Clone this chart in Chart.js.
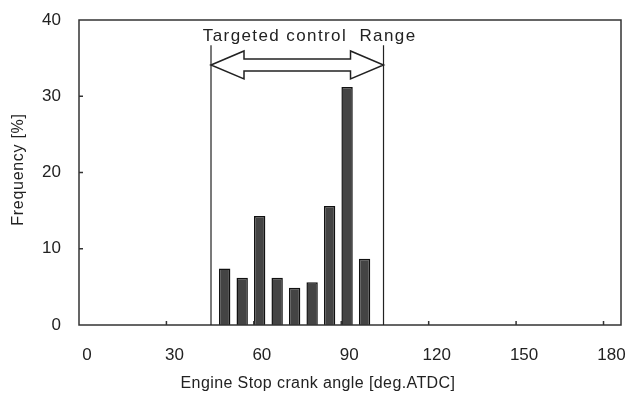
<!DOCTYPE html>
<html>
<head>
<meta charset="utf-8">
<script src="https://cdn.jsdelivr.net/npm/chart.js@4.4.0/dist/chart.umd.min.js"></script>
<style>
html, body { margin: 0; padding: 0; background: #fff; }
</style>
</head>
<body>
<canvas id="myChart" width="628" height="402"></canvas>
<script>
// stop angle bins (deg ATDC) and share of stops per bin (%)
const angles = [50, 56, 62, 68, 74, 80, 86, 92, 98];
const freq = [7.4, 6.2, 14.3, 6.2, 4.9, 5.6, 15.6, 31.2, 8.7];
const xTicks = [0, 30, 60, 90, 120, 150, 180];
const yTicks = [0, 10, 20, 30, 40];
const rangeBounds = [45.3, 104.5];
const rangeLabel = 'Targeted control  Range';
const xTitle = 'Engine Stop crank angle [deg.ATDC]';
const yTitle = 'Frequency [%]';

const FONT = '"Liberation Sans", Arial, sans-serif';
const INK = '#222';

// frame, inward tick marks, control range arrow and axis titles
const extras = {
  id: 'extras',
  afterDraw(chart) {
    const ctx = chart.ctx;
    const a = chart.chartArea;
    const xs = chart.scales.x, ys = chart.scales.y;
    ctx.save();
    ctx.strokeStyle = '#333';
    ctx.lineWidth = 1.5;
    ctx.strokeRect(a.left, a.top, a.right - a.left, a.bottom - a.top);

    ctx.beginPath();
    xTicks.slice(1).forEach(v => {
      const px = xs.getPixelForValue(v);
      ctx.moveTo(px, a.bottom);
      ctx.lineTo(px, a.bottom - 4);
    });
    yTicks.slice(1, -1).forEach(v => {
      const py = ys.getPixelForValue(v);
      ctx.moveTo(a.left, py);
      ctx.lineTo(a.left + 4, py);
    });
    ctx.stroke();

    // range limits
    const xl = xs.getPixelForValue(rangeBounds[0]);
    const xr = xs.getPixelForValue(rangeBounds[1]);
    const yTop = ys.getPixelForValue(36.7);
    ctx.strokeStyle = INK;
    ctx.lineWidth = 1.2;
    ctx.beginPath();
    ctx.moveTo(xl, yTop); ctx.lineTo(xl, ys.getPixelForValue(0));
    ctx.moveTo(xr, yTop); ctx.lineTo(xr, ys.getPixelForValue(0));
    ctx.stroke();

    // hollow double arrow
    const yc = ys.getPixelForValue(34.1);
    const hl = 33, hw = 14, sw = 6;
    ctx.beginPath();
    ctx.moveTo(xl, yc);
    ctx.lineTo(xl + hl, yc - hw);
    ctx.lineTo(xl + hl, yc - sw);
    ctx.lineTo(xr - hl, yc - sw);
    ctx.lineTo(xr - hl, yc - hw);
    ctx.lineTo(xr, yc);
    ctx.lineTo(xr - hl, yc + hw);
    ctx.lineTo(xr - hl, yc + sw);
    ctx.lineTo(xl + hl, yc + sw);
    ctx.lineTo(xl + hl, yc + hw);
    ctx.closePath();
    ctx.fillStyle = '#fff';
    ctx.fill();
    ctx.lineWidth = 1.5;
    ctx.stroke();

    ctx.fillStyle = INK;
    ctx.font = '17px ' + FONT;
    ctx.letterSpacing = '1.4px';
    ctx.textAlign = 'left';
    ctx.textBaseline = 'middle';
    ctx.fillText(rangeLabel, xs.getPixelForValue(42.5), ys.getPixelForValue(37.8));

    ctx.font = '16px ' + FONT;
    ctx.letterSpacing = '0.4px';
    ctx.textAlign = 'center';
    ctx.fillText(xTitle, xs.getPixelForValue(82), 384);

    ctx.letterSpacing = '0.7px';
    ctx.translate(19, (a.top + a.bottom) / 2 - 3);
    ctx.rotate(-Math.PI / 2);
    ctx.fillText(yTitle, 0, 0);
    ctx.restore();
  }
};

const myChart = new Chart('myChart', {
  type: 'bar',
  data: {
    datasets: [{
      data: angles.map((x, i) => ({ x: x, y: freq[i] })),
      backgroundColor: '#444',
      borderColor: '#111',
      borderWidth: 1.5,
      barPercentage: 0.65,
      categoryPercentage: 1
    }]
  },
  options: {
    responsive: false,
    devicePixelRatio: 1,
    animation: false,
    layout: { padding: { top: 20, right: 7, left: 0, bottom: 0 } },
    plugins: { legend: { display: false }, tooltip: { enabled: false } },
    scales: {
      x: {
        type: 'linear',
        offset: false,
        min: 0,
        max: 186,
        afterBuildTicks: s => { s.ticks = xTicks.map(v => ({ value: v })); },
        afterFit: s => {
          s.height = 77;
          s.paddingLeft = 0;
          s.paddingRight = 0;
        },
        grid: { display: false, drawTicks: false, offset: false },
        border: { display: false },
        ticks: { color: INK, font: { size: 17, family: FONT }, padding: 20, labelOffset: 8, maxRotation: 0 }
      },
      y: {
        min: 0,
        max: 40,
        afterBuildTicks: s => { s.ticks = yTicks.map(v => ({ value: v })); },
        afterFit: s => {
          s.width = 79;
          s.paddingTop = 0;
          s.paddingBottom = 0;
        },
        grid: { display: false, drawTicks: false },
        border: { display: false },
        ticks: { color: INK, font: { size: 17, family: FONT }, padding: 18 }
      }
    }
  },
  plugins: [extras]
});
</script>
</body>
</html>
